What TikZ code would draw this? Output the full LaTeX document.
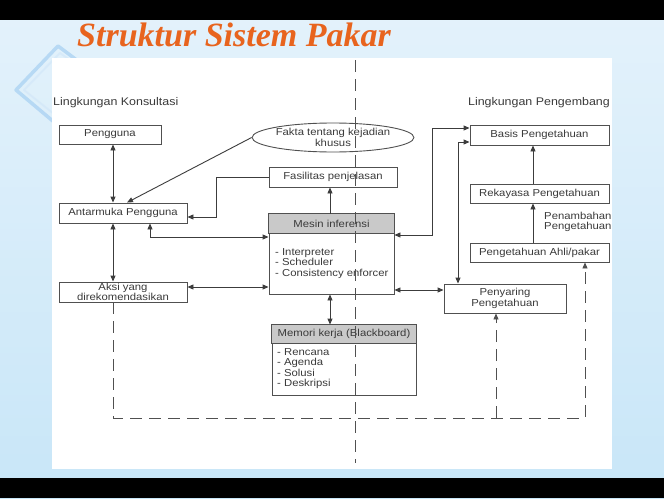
\documentclass[tikz,border=0pt]{standalone}
\usepackage{fontspec}
\setmainfont{Liberation Sans}
\newfontfamily\diagfont[FakeStretch=1.12]{Liberation Sans}
\newfontfamily\titlefont{Liberation Serif}
\usetikzlibrary{arrows.meta,shapes.geometric,calc}
\definecolor{lnc}{HTML}{3C3C3C}
\definecolor{boxc}{HTML}{505050}
\definecolor{txtc}{HTML}{3A3A3A}
\definecolor{hdr}{HTML}{C9C9C9}
\definecolor{ttl}{RGB}{232,100,30}
\definecolor{bgtop}{HTML}{E4F2FB}
\definecolor{bgbot}{HTML}{C8E6F8}
\definecolor{deco}{HTML}{9CCAF0}
\begin{document}
\begin{tikzpicture}[x=1pt,y=-1pt,
  txt/.style={font=\diagfont\fontsize{10.1}{10.5}\selectfont, text=txtc, inner sep=0pt},
  lbl/.style={font=\diagfont\fontsize{11.1}{12}\selectfont, text=txtc, inner sep=0pt},
  boxn/.style={draw=boxc, line width=0.9pt, fill=white, inner sep=0pt, txt, align=center},
  arr/.style={draw=lnc, line width=0.9pt, -{Triangle[length=6pt,width=5pt]}},
  dbl/.style={draw=lnc, line width=0.9pt, {Triangle[length=6pt,width=5pt]}-{Triangle[length=6pt,width=5pt]}},
  dsh/.style={draw=boxc, line width=0.9pt, dash pattern=on 12pt off 7pt}]
\useasboundingbox (0,0) rectangle (664,498);
% background
\shade[top color=bgtop, bottom color=bgbot] (0,0) rectangle (664,498);
\fill[black] (0,0) rectangle (664,20);
\fill[black] (0,478) rectangle (664,498);
% decoration
\draw[deco, line width=3.5pt, line join=round, opacity=0.6] (82,64) -- (58,46) -- (16,90) -- (54,122);
\draw[deco!50, line width=2pt, line join=round, opacity=0.5] (84,70) -- (60,53) -- (24,90) -- (54,114);
% white panel
\fill[white] (52,58) rectangle (612,469);
% title
\node[font=\titlefont\bfseries\itshape\fontsize{34}{34}\selectfont, text=ttl, anchor=base west, inner sep=0pt] (title) at (77,46) {Struktur Sistem Pakar};
% labels
\node[lbl, anchor=west] (lk) at (53,103) {Lingkungan Konsultasi};
\node[lbl, anchor=east] (lp) at (610,103) {Lingkungan Pengembang};
% left boxes
\node[boxn, minimum width=102, minimum height=19] (peng) at (110,134.5) {Pengguna};
\node[boxn, minimum width=128, minimum height=20] (antar) at (123,213) {Antarmuka Pengguna};
\node[boxn, minimum width=128, minimum height=20] (aksi) at (123,292) {Aksi yang\\direkomendasikan};
% middle
\node[boxn, ellipse, minimum width=140, minimum height=29] (fakta) at (333,137.5) {Fakta tentang kejadian\\khusus};
\node[boxn, minimum width=128, minimum height=20] (fasil) at (333,177) {Fasilitas penjelasan};
\node[boxn, minimum width=125, minimum height=80] (mesin) at (331.5,254) {};
\draw[draw=boxc, line width=0.9pt, fill=hdr] (mesin.north west) rectangle ($(mesin.north east)+(0,20)$);
\node[txt] (mesinh) at ($(mesin.north)+(0,10)$) {Mesin inferensi};
\node[txt, anchor=west, align=left] (mesini) at (275,263.5) {- Interpreter\\- Scheduler\\- Consistency enforcer};
\node[boxn, minimum width=144, minimum height=70] (memori) at (344,360) {};
\draw[draw=boxc, line width=0.9pt, fill=hdr] (memori.north west) rectangle ($(memori.north east)+(0,19)$);
\node[txt] (memorih) at ($(memori.north)+(0,9.5)$) {Memori kerja (Blackboard)};
\node[txt, anchor=west, align=left] (memorii) at (277,368.5) {- Rencana\\- Agenda\\- Solusi\\- Deskripsi};
% right
\node[boxn, minimum width=139, minimum height=20] (basis) at (539.5,135) {Basis Pengetahuan};
\node[boxn, minimum width=139, minimum height=19] (rek) at (539.5,193.5) {Rekayasa Pengetahuan};
\node[boxn, minimum width=139, minimum height=19] (ahli) at (539.5,252.5) {Pengetahuan Ahli/pakar};
\node[txt, anchor=west, align=left] (tamb) at (544,222) {Penambahan\\Pengetahuan};
\node[boxn, minimum width=122, minimum height=29] (penyar) at (505,298.5) {Penyaring\\Pengetahuan};
% helper coordinates
\coordinate (xa) at (113,0);
\coordinate (xb) at (127,0);
\coordinate (k1) at (216,217);
\coordinate (k2) at (150,237);
\coordinate (k3) at (0,287);
\coordinate (k4) at (330,0);
\coordinate (k5) at (432,235);
\coordinate (k6) at (432,128);
\coordinate (k7) at (458,142);
\coordinate (k8) at (0,290);
\coordinate (k9) at (533,0);
\coordinate (kb) at (0,418);
\coordinate (kc) at (585,418);
\coordinate (kd) at (496,418);
\coordinate (ct) at (355,60);
\coordinate (cb) at (355,463);
% connectors
\draw[dbl] (peng.south -| xa) -- (antar.north -| xa);
\draw[dbl] (antar.south -| xa) -- (aksi.north -| xa);
\draw[arr] (fakta.west) -- (antar.north -| xb);
\draw[arr] (fasil.west) -| (k1) -- (k1 -| antar.east);
\draw[dbl] (antar.south -| k2) -- (k2) -- (k2 -| mesin.west);
\draw[dbl] (aksi.east |- k3) -- (mesin.west |- k3);
\draw[arr] (mesin.north -| k4) -- (fasil.south -| k4);
\draw[dbl] (mesin.south -| k4) -- (memori.north -| k4);
\draw[dbl] (mesin.east |- k5) -- (k5) -- (k6) -- (k6 -| basis.west);
\draw[dbl] (basis.west |- k7) -- (k7) -- (k7 |- penyar.north);
\draw[dbl] (mesin.east |- k8) -- (penyar.west |- k8);
\draw[arr] (ahli.north -| k9) -- (rek.south -| k9);
\draw[arr] (rek.north -| k9) -- (basis.south -| k9);
% dashed
\draw[dsh, -{Triangle[length=6pt,width=5pt]}] (aksi.south -| xa) -- (xa |- kb) -- (kc) -- (kc |- ahli.south);
\draw[dsh, -{Triangle[length=6pt,width=5pt]}] (kd) -- (kd |- penyar.south);
\draw[dsh] (ct) -- (cb);
\end{tikzpicture}
\end{document}
